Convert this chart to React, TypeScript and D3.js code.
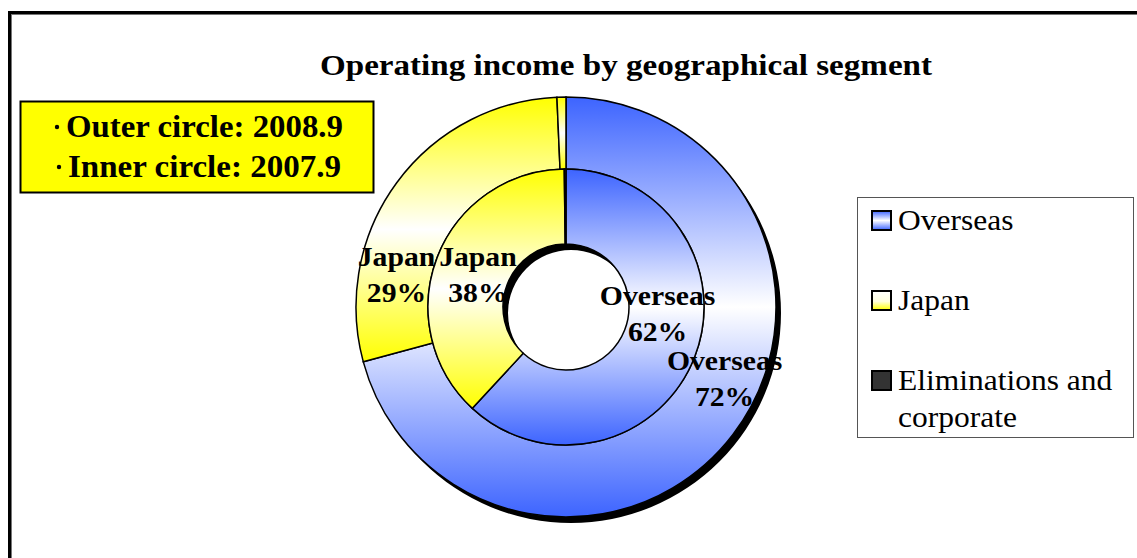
import React from "react";
import * as d3 from "d3";

const categories = ["Overseas", "Japan", "Eliminations and corporate"];
const outerValues = [72, 29, 0.7]; // 2008.9 (eliminations shown by absolute size)
const innerValues = [62, 38, 0.2]; // 2007.9
const outerLabels = ["72%", "29%", ""];
const innerLabels = ["62%", "38%", ""];
const legendLabels = [["Overseas"], ["Japan"], ["Eliminations and", "corporate"]];
const infoLines = ["Outer circle: 2008.9", "Inner circle: 2007.9"];
const title = "Operating income by geographical segment";

const W = 1137;
const H = 558;
const cx = 566;
const cy = 307;
const rOuter = 210;
const rMid = 138;
const rHole = 63;

// label placements (angle in degrees clockwise from top, radius)
const outerLabelPos = [
  { a: 117, r: 178 },
  { a: 277.7, r: 171 },
];
const innerLabelPos = [
  { a: 100, r: 93 },
  { a: 284.6, r: 91 },
];

const serif = "'Liberation Serif', 'Times New Roman', serif";

export default function App() {
  const pie = d3.pie<number>().sort(null).value((d) => d);
  const outerArcs = pie(outerValues);
  const innerArcs = pie(innerValues);
  const arcOuter = d3.arc<d3.PieArcDatum<number>>().innerRadius(rMid).outerRadius(rOuter);
  const arcInner = d3.arc<d3.PieArcDatum<number>>().innerRadius(rHole).outerRadius(rMid);
  const shadowArc = d3.arc()({ innerRadius: rHole, outerRadius: rOuter, startAngle: 0, endAngle: Math.PI * 2 } as any) as string;

  const fills = ["url(#gBlue)", "url(#gYellow)", "url(#gYellow)"];
  const innerFills = ["url(#gBlue)", "url(#gYellow)", "#333"];

  const polar = (p: { a: number; r: number }) => {
    const t = (p.a * Math.PI) / 180;
    return [Math.sin(t) * p.r, -Math.cos(t) * p.r];
  };

  const labelFont = 27;
  const sx = 1.1;

  const label = (key: string, p: { a: number; r: number }, l1: string, l2: string) => {
    const [x, y] = polar(p);
    return (
      <g key={key} transform={`translate(${x},${y}) scale(${sx},1)`}>
        <text x={0} y={-18} textAnchor="middle" fontFamily={serif} fontWeight="bold" fontSize={labelFont}>
          {l1}
        </text>
        <text x={0} y={18} textAnchor="middle" fontFamily={serif} fontWeight="bold" fontSize={labelFont}>
          {l2}
        </text>
      </g>
    );
  };

  return (
    <div style={{ position: "absolute", left: 0, top: 0 }}>
      <svg width={W} height={H} style={{ display: "block", background: "#fff" }}>
        <defs>
          <linearGradient id="gBlue" x1="0" y1="0" x2="0" y2="1">
            <stop offset="0" stopColor="#3d64ff" />
            <stop offset="0.5" stopColor="#ffffff" />
            <stop offset="1" stopColor="#3d64ff" />
          </linearGradient>
          <linearGradient id="gYellow" x1="0" y1="0" x2="0" y2="1">
            <stop offset="0" stopColor="#ffff00" />
            <stop offset="0.5" stopColor="#ffffff" />
            <stop offset="1" stopColor="#ffff00" />
          </linearGradient>
          <linearGradient id="lBlue" x1="0" y1="0" x2="0" y2="1">
            <stop offset="0" stopColor="#3d64ff" />
            <stop offset="0.5" stopColor="#ffffff" />
            <stop offset="1" stopColor="#3d64ff" />
          </linearGradient>
          <linearGradient id="lYellow" x1="0" y1="0" x2="0" y2="1">
            <stop offset="0" stopColor="#ffffff" />
            <stop offset="0.55" stopColor="#ffffdd" />
            <stop offset="1" stopColor="#ffff00" />
          </linearGradient>
        </defs>

        {/* frame */}
        <rect x={9.5} y={12.5} width={W + 10} height={H + 10} fill="none" stroke="#000" strokeWidth={3} />
        <rect x={11.5} y={14.5} width={W + 10} height={H + 10} fill="none" stroke="#777" strokeWidth={1} />

        {/* title */}
        <text x={320} y={75} textLength={612} lengthAdjust="spacingAndGlyphs" fontFamily={serif} fontWeight="bold" fontSize={30}>
          {title}
        </text>

        {/* info box */}
        <rect x={20.5} y={101.5} width={353} height={91} fill="#ffff00" stroke="#000" strokeWidth={2} />
        {infoLines.map((t, i) => (
          <g key={i}>
            <circle cx={i === 0 ? 57 : 59} cy={127 + i * 40} r={2.2} fill="#000" />
            <text x={i === 0 ? 66 : 68} y={137 + i * 40} textLength={i === 0 ? 277 : 273} lengthAdjust="spacingAndGlyphs" fontFamily={serif} fontWeight="bold" fontSize={32}>
              {t}
            </text>
          </g>
        ))}

        {/* donut */}
        <g transform={`translate(${cx},${cy})`}>
          <path d={shadowArc} transform="translate(5,6)" fill="#000" />
          {outerArcs.map((a, i) => (
            <path key={"o" + i} d={arcOuter(a) as string} fill={fills[i]} stroke="#000" strokeWidth={1.5} />
          ))}
          {innerArcs.map((a, i) => (
            <path key={"i" + i} d={arcInner(a) as string} fill={innerFills[i]} stroke="#000" strokeWidth={1.5} />
          ))}
          {innerLabelPos.map((p, i) => label("il" + i, p, categories[i], innerLabels[i]))}
          {outerLabelPos.map((p, i) => label("ol" + i, p, categories[i], outerLabels[i]))}
        </g>

        {/* legend */}
        <rect x={857.5} y={197.5} width={276} height={240} fill="#fff" stroke="#555" strokeWidth={1} />
        {categories.map((c, i) => {
          const y = 211 + i * 80;
          const fill = i === 0 ? "url(#lBlue)" : i === 1 ? "url(#lYellow)" : "#333";
          return (
            <g key={"lg" + i}>
              <rect x={872} y={y} width={19} height={19} fill={fill} stroke="#000" strokeWidth={2} />
              {legendLabels[i].map((t, j) => (
                <g key={j} transform={`translate(898,${y + 19 + j * 37}) scale(1.05,1)`}>
                  <text x={0} y={0} fontFamily={serif} fontSize={30}>
                    {t}
                  </text>
                </g>
              ))}
            </g>
          );
        })}
      </svg>
    </div>
  );
}
